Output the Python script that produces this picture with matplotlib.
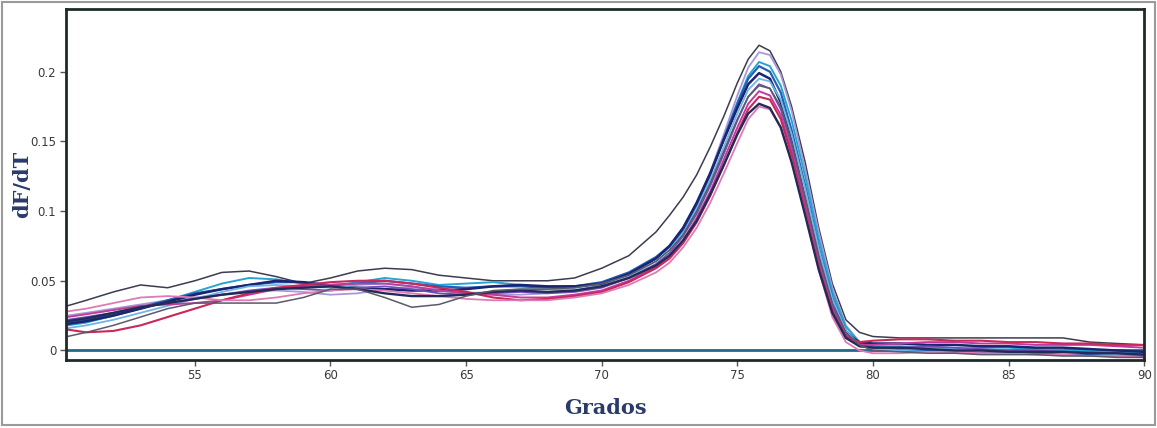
import matplotlib
matplotlib.use("Agg")
import matplotlib.pyplot as plt
from matplotlib.patches import Rectangle

# Temperature grid (degrees)
temps = [50.3, 51, 52, 53, 54, 55, 56, 57, 58, 59, 60, 61, 62, 63, 64, 65, 66, 67, 68, 69,
         70, 71, 72, 72.5, 73, 73.5, 74, 74.5, 75, 75.4, 75.8, 76.2, 76.6, 77, 77.5, 78,
         78.5, 79, 79.5, 80, 81, 82, 83, 84, 85, 86, 87, 88, 89, 90]

# dF/dT melt curves, one list per sample
gray_hi = [0.032, 0.036, 0.042, 0.047, 0.045, 0.050, 0.056, 0.057, 0.053, 0.048, 0.052, 0.057, 0.059, 0.058, 0.054, 0.052, 0.050, 0.050, 0.050, 0.052,
           0.059, 0.068, 0.085, 0.097, 0.110, 0.126, 0.146, 0.168, 0.192, 0.209, 0.219, 0.215, 0.200, 0.175, 0.135, 0.088,
           0.048, 0.022, 0.013, 0.010, 0.009, 0.009, 0.009, 0.009, 0.009, 0.009, 0.009, 0.006, 0.005, 0.004]
lavender = [0.025, 0.027, 0.030, 0.033, 0.036, 0.038, 0.040, 0.042, 0.043, 0.042, 0.040, 0.041, 0.044, 0.045, 0.044, 0.042, 0.040, 0.040, 0.041, 0.043,
            0.047, 0.054, 0.066, 0.075, 0.088, 0.106, 0.128, 0.155, 0.183, 0.203, 0.214, 0.212, 0.198, 0.172, 0.130, 0.085,
            0.045, 0.018, 0.006, 0.002, 0.001, 0.000, 0.000, -0.001, -0.001, 0.000, 0.000, -0.002, -0.003, -0.004]
cyan = [0.018, 0.020, 0.025, 0.030, 0.036, 0.042, 0.048, 0.052, 0.051, 0.048, 0.046, 0.049, 0.052, 0.050, 0.047, 0.048, 0.049, 0.047, 0.045, 0.045,
        0.048, 0.055, 0.066, 0.074, 0.086, 0.104, 0.125, 0.152, 0.178, 0.197, 0.207, 0.204, 0.190, 0.165, 0.125, 0.080,
        0.042, 0.017, 0.006, 0.003, 0.003, 0.002, 0.001, 0.002, 0.002, 0.001, 0.000, 0.000, -0.001, -0.002]
blue = [0.020, 0.022, 0.026, 0.031, 0.036, 0.041, 0.044, 0.047, 0.049, 0.049, 0.047, 0.048, 0.050, 0.048, 0.046, 0.045, 0.046, 0.046, 0.045, 0.046,
        0.049, 0.056, 0.067, 0.075, 0.087, 0.105, 0.127, 0.152, 0.177, 0.195, 0.204, 0.200, 0.185, 0.158, 0.118, 0.074,
        0.038, 0.014, 0.005, 0.002, 0.001, 0.000, -0.001, -0.002, -0.001, -0.002, -0.003, -0.003, -0.004, -0.004]
navy = [0.019, 0.021, 0.025, 0.030, 0.035, 0.040, 0.044, 0.047, 0.050, 0.049, 0.046, 0.045, 0.044, 0.043, 0.043, 0.044, 0.046, 0.047, 0.046, 0.046,
        0.048, 0.055, 0.066, 0.075, 0.088, 0.106, 0.127, 0.151, 0.174, 0.191, 0.199, 0.195, 0.178, 0.150, 0.108, 0.066,
        0.032, 0.012, 0.006, 0.005, 0.005, 0.004, 0.004, 0.003, 0.003, 0.002, 0.002, 0.001, 0.000, -0.001]
light_blue = [0.016, 0.018, 0.022, 0.027, 0.032, 0.037, 0.042, 0.046, 0.047, 0.046, 0.045, 0.047, 0.048, 0.046, 0.043, 0.041, 0.042, 0.044, 0.044, 0.043,
              0.046, 0.053, 0.064, 0.072, 0.084, 0.101, 0.122, 0.146, 0.170, 0.187, 0.195, 0.193, 0.180, 0.155, 0.116, 0.073,
              0.037, 0.014, 0.004, 0.001, 0.000, 0.001, 0.001, 0.000, 0.000, -0.001, -0.001, -0.002, -0.003, -0.003]
purple = [0.022, 0.024, 0.027, 0.031, 0.034, 0.037, 0.040, 0.043, 0.045, 0.044, 0.043, 0.045, 0.046, 0.044, 0.041, 0.040, 0.041, 0.042, 0.041, 0.042,
          0.045, 0.052, 0.062, 0.070, 0.082, 0.098, 0.118, 0.141, 0.165, 0.182, 0.191, 0.188, 0.173, 0.147, 0.108, 0.066,
          0.033, 0.012, 0.004, 0.002, 0.002, 0.003, 0.002, 0.001, 0.000, 0.000, -0.001, -0.001, -0.002, -0.003]
magenta = [0.024, 0.026, 0.029, 0.032, 0.033, 0.034, 0.036, 0.040, 0.044, 0.046, 0.047, 0.048, 0.048, 0.046, 0.043, 0.041, 0.040, 0.038, 0.038, 0.040,
           0.043, 0.050, 0.060, 0.068, 0.079, 0.095, 0.114, 0.137, 0.160, 0.177, 0.186, 0.183, 0.169, 0.143, 0.104, 0.063,
           0.030, 0.010, 0.004, 0.004, 0.005, 0.006, 0.006, 0.005, 0.005, 0.004, 0.004, 0.004, 0.003, 0.002]
crimson = [0.015, 0.013, 0.014, 0.018, 0.024, 0.030, 0.036, 0.041, 0.045, 0.047, 0.049, 0.050, 0.050, 0.048, 0.045, 0.042, 0.038, 0.036, 0.037, 0.039,
           0.042, 0.049, 0.059, 0.066, 0.077, 0.092, 0.111, 0.133, 0.156, 0.173, 0.182, 0.180, 0.166, 0.140, 0.100, 0.060,
           0.028, 0.010, 0.006, 0.007, 0.008, 0.008, 0.007, 0.007, 0.006, 0.006, 0.005, 0.005, 0.004, 0.004]
pink = [0.028, 0.030, 0.034, 0.038, 0.039, 0.038, 0.036, 0.036, 0.038, 0.041, 0.043, 0.044, 0.043, 0.041, 0.039, 0.037, 0.036, 0.036, 0.036, 0.038,
        0.041, 0.047, 0.056, 0.063, 0.074, 0.088, 0.106, 0.127, 0.149, 0.166, 0.175, 0.173, 0.160, 0.136, 0.098, 0.058,
        0.024, 0.006, 0.000, -0.002, -0.002, -0.001, -0.001, -0.002, -0.002, -0.003, -0.003, -0.004, -0.004, -0.005]
navy_dark = [0.021, 0.023, 0.027, 0.031, 0.034, 0.037, 0.040, 0.042, 0.044, 0.045, 0.046, 0.044, 0.041, 0.039, 0.039, 0.040, 0.042, 0.043, 0.042, 0.043,
             0.046, 0.052, 0.061, 0.068, 0.079, 0.093, 0.112, 0.133, 0.155, 0.170, 0.177, 0.174, 0.160, 0.135, 0.097, 0.058,
             0.027, 0.009, 0.003, 0.002, 0.002, 0.001, 0.000, 0.000, -0.001, -0.001, -0.001, -0.002, -0.002, -0.003]
gray_lo = [0.010, 0.013, 0.018, 0.024, 0.030, 0.034, 0.034, 0.034, 0.034, 0.038, 0.044, 0.044, 0.038, 0.031, 0.033, 0.039, 0.043, 0.044, 0.044, 0.045,
           0.048, 0.054, 0.064, 0.072, 0.083, 0.100, 0.120, 0.143, 0.166, 0.182, 0.190, 0.188, 0.175, 0.150, 0.110, 0.068,
           0.034, 0.013, 0.004, 0.000, -0.001, -0.002, -0.002, -0.003, -0.003, -0.003, -0.004, -0.004, -0.005, -0.005]

curves = [gray_hi, lavender, cyan, blue, navy, light_blue, purple, magenta, crimson, pink, navy_dark, gray_lo]
colors = ['#3c3c50', '#a898d8', '#29a3cf', '#1f60b8', '#1c2470', '#70b4e8',
          '#7050b8', '#c03c9c', '#c8285a', '#e07ab4', '#242a58', '#5a5a6a']
widths = [1.1, 1.3, 1.4, 1.6, 1.8, 1.3, 1.3, 1.4, 1.5, 1.3, 1.7, 1.1]

xticks = [55, 60, 65, 70, 75, 80, 85, 90]
yticks = [0, 0.05, 0.1, 0.15, 0.2]
ytick_labels = ['0', '0.05', '0.1', '0.15', '0.2']

fig = plt.figure(figsize=(11.57, 4.28), dpi=100)
ax = fig.add_axes([0.057, 0.160, 0.932, 0.818])

# zero baseline
ax.axhline(0, color='#1d6a8a', lw=2.0, zorder=1)

for y, c, w in zip(curves, colors, widths):
    ax.plot(temps, y, color=c, lw=w, zorder=2)

ax.set_xlim(50.25, 90)
ax.set_ylim(-0.0065, 0.2447)
ax.set_xticks(xticks)
ax.set_yticks(yticks)
ax.set_yticklabels(ytick_labels)
ax.tick_params(direction='out', length=4, width=1, colors='#555555',
               labelsize=8.5, labelcolor='#3a3a3a', pad=3)

for s in ax.spines.values():
    s.set_color('#1e2a2a')
    s.set_linewidth(2)

ax.set_ylabel('dF/dT', family='DejaVu Serif', fontsize=15, fontweight='bold', color='#2a3a6a')
ax.yaxis.set_label_coords(-0.031, 0.5)
ax.set_xlabel('Grados', family='DejaVu Serif', fontsize=15, fontweight='bold', color='#2a3a6a')
ax.xaxis.set_label_coords(0.5, -0.11)

# outer frame around the whole picture
fig.patches.append(Rectangle((0.002, 0.008), 0.996, 0.987, transform=fig.transFigure,
                             fill=False, edgecolor='#9a9a9a', lw=1.5))

fig.savefig('out.png', dpi=100)
